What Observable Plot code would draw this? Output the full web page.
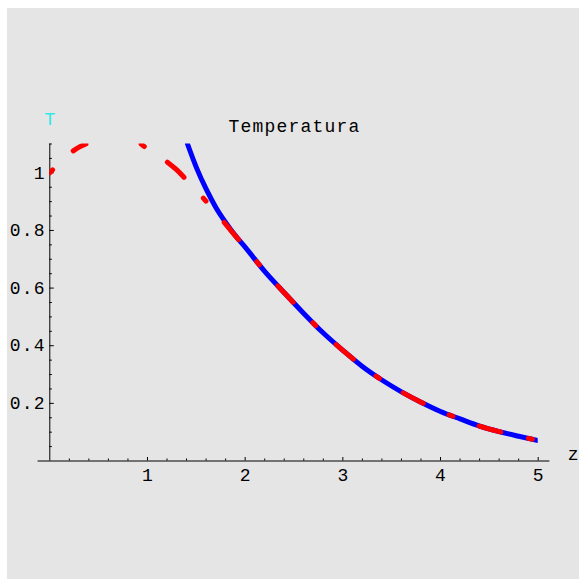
<!DOCTYPE html>
<html><head><meta charset="utf-8">
<script src="https://cdn.jsdelivr.net/npm/d3@7"></script>
<script src="https://cdn.jsdelivr.net/npm/@observablehq/plot@0.6"></script>
<style>
body{margin:0;background:#fff;}
#wrap{position:relative;width:579px;height:579px;background:#fff;overflow:hidden;}
#panel{position:absolute;left:7px;top:8px;width:572px;height:571px;background:#e5e5e5;}
#chart{position:absolute;left:0;top:0;}
</style></head><body>
<div id="wrap"><div id="panel"></div><div id="chart"></div></div>
<script>
const title = "Temperatura";
const xLabel = "z";
const yLabel = "T";
const xMajor = [1, 2, 3, 4, 5];
const xMajorLabels = ["1", "2", "3", "4", "5"];
const xMinor = [0.2, 0.4, 0.6, 0.8, 1.2, 1.4, 1.6, 1.8, 2.2, 2.4, 2.6, 2.8, 3.2, 3.4, 3.6, 3.8, 4.2, 4.4, 4.6, 4.8];
const yMajor = [0.2, 0.4, 0.6, 0.8, 1];
const yMajorLabels = ["0.2", "0.4", "0.6", "0.8", "1"];
const yMinor = [0.05, 0.1, 0.15, 0.25, 0.3, 0.35, 0.45, 0.5, 0.55, 0.65, 0.7, 0.75, 0.85, 0.9, 0.95, 1.05, 1.1];
const xAxisExtent = [-0.12, 5.12];
const yAxisExtent = [0, 1.1];

// blue solid curve
const zBlue = [1.41, 1.5, 1.6, 1.7, 1.8, 1.9, 2.0, 2.2, 2.4, 2.6, 2.8, 3.0, 3.2, 3.4, 3.6, 3.8, 4.0, 4.2, 4.4, 4.6, 4.8, 5.0];
const tBlue = [1.10, 1.019, 0.944, 0.880, 0.828, 0.782, 0.742, 0.658, 0.584, 0.512, 0.444, 0.384, 0.328, 0.281, 0.240, 0.204, 0.172, 0.146, 0.121, 0.102, 0.086, 0.071];
// red dashed curve, piece below the top edge near z = 0
const zRed1 = [0, 0.1, 0.2, 0.3, 0.37];
const tRed1 = [1.0, 1.035, 1.066, 1.089, 1.10];
// red dashed curve, piece after it comes back into view
const zRed2 = [0.935, 1.0, 1.1, 1.2, 1.3, 1.4, 1.5, 1.6, 1.7, 1.8, 1.9, 2.0, 2.2, 2.4, 2.6, 2.8, 3.0, 3.2, 3.4, 3.6, 3.8, 4.0, 4.2, 4.4, 4.6, 4.8, 5.0];
const tRed2 = [1.10, 1.083, 1.062, 1.038, 1.010, 0.975, 0.940, 0.901, 0.862, 0.822, 0.781, 0.742, 0.658, 0.584, 0.512, 0.444, 0.384, 0.328, 0.281, 0.240, 0.204, 0.172, 0.146, 0.121, 0.102, 0.086, 0.071];

const blue = zBlue.map((z, i) => ({z, t: tBlue[i]}));
const red = [
  ...zRed1.map((z, i) => ({z, t: tRed1[i], seg: 1})),
  ...zRed2.map((z, i) => ({z, t: tRed2[i], seg: 2}))
];
const xt = xMajor.map((v, i) => ({v, label: xMajorLabels[i]}));
const yt = yMajor.map((v, i) => ({v, label: yMajorLabels[i]}));

const font = "'Liberation Mono', 'Courier New', monospace";
const fs = 18;
const chart = Plot.plot({
  width: 579,
  height: 579,
  marginLeft: 49.3,
  marginRight: 41.3,
  marginTop: 143.5,
  marginBottom: 118.5,
  x: {domain: [0, 5], axis: null},
  y: {domain: [0, 1.1], axis: null},
  style: {background: "transparent", fontFamily: font, fontSize: fs + "px", letterSpacing: "1.2px", overflow: "visible"},
  marks: [
    Plot.ruleY([0], {x1: xAxisExtent[0], x2: xAxisExtent[1], stroke: "#000", strokeWidth: 1}),
    Plot.ruleX([0], {y1: yAxisExtent[0], y2: yAxisExtent[1], stroke: "#000", strokeWidth: 1}),
    Plot.ruleX(xMajor, {x: d => d, y1: 0, y2: 0, insetTop: -3.5, stroke: "#000", strokeWidth: 1}),
    Plot.ruleX(xMinor, {x: d => d, y1: 0, y2: 0, insetTop: -2, stroke: "#000", strokeWidth: 1}),
    Plot.ruleY(yMajor, {y: d => d, x1: 0, x2: 0, insetRight: -4.5, stroke: "#000", strokeWidth: 1}),
    Plot.ruleY(yMinor, {y: d => d, x1: 0, x2: 0, insetRight: -2.5, stroke: "#000", strokeWidth: 1}),
    Plot.line(blue, {x: "z", y: "t", stroke: "#0000ff", strokeWidth: 5, strokeLinecap: "round", curve: "monotone-x", clip: true}),
    Plot.line(red, {x: "z", y: "t", z: "seg", stroke: "#ff0000", strokeWidth: 5, strokeLinecap: "round", strokeDasharray: "4 28 22.5 28.4", curve: "monotone-x", clip: true}),
    Plot.text(xt, {x: "v", y: 0, text: "label", dy: 14, dx: 0.6, fill: "#000", fontSize: fs, textAnchor: "middle"}),
    Plot.text(yt, {x: 0, y: "v", text: "label", dx: -4, fill: "#000", fontSize: fs, textAnchor: "end"}),
    Plot.text([title], {frameAnchor: "top", text: d => d, dy: -25, dx: 0.6, fill: "#000", fontSize: fs, textAnchor: "middle"}),
    Plot.text([yLabel], {frameAnchor: "top-left", text: d => d, dy: -32, dx: 0.6, fill: "#30e8e8", fontSize: fs, textAnchor: "middle"}),
    Plot.text([xLabel], {frameAnchor: "bottom-right", text: d => d, dx: 29.5, dy: -1, fill: "#000", fontSize: fs, textAnchor: "start"})
  ]
});
document.getElementById("chart").appendChild(chart);
</script>
</body></html>
